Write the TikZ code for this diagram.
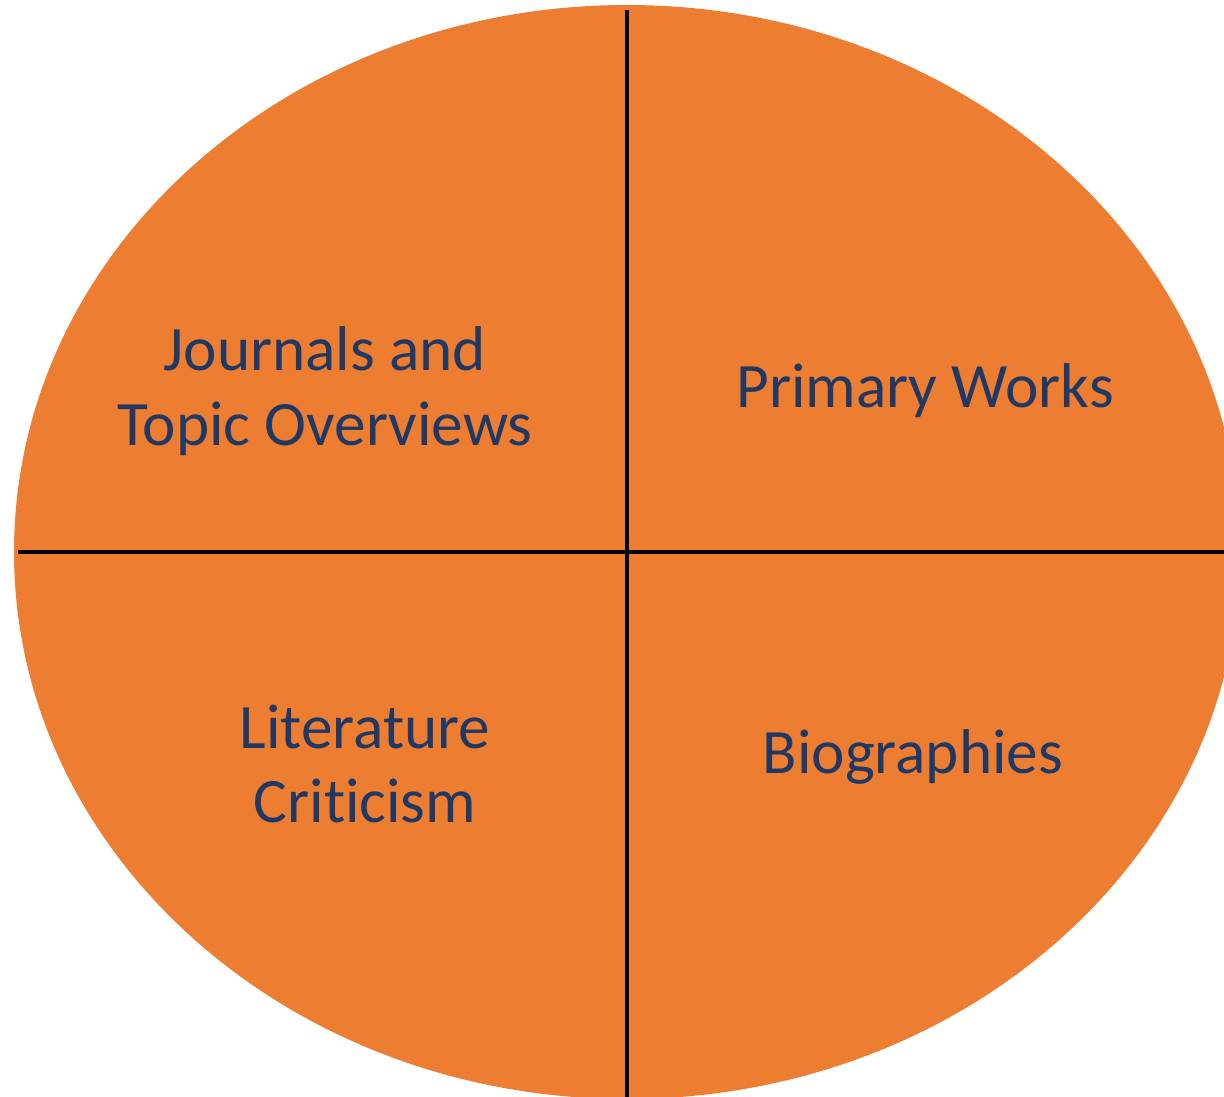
\documentclass[tikz,border=0pt]{standalone}
\usepackage{fontspec}
\setmainfont[Ligatures=CommonOff]{Carlito}
\usetikzlibrary{positioning,shapes.geometric}
\definecolor{discorange}{HTML}{ED7D31}
\definecolor{labelblue}{HTML}{203864}
\tikzset{
    disc/.style={ellipse, fill=discorange, inner sep=0pt,
        minimum width=1226*0.02cm, minimum height=1094*0.02cm},
    divider/.style={line width=0.08cm, black},
    quadlabel/.style={text=labelblue, align=center,
        font=\fontsize{36}{42.5}\selectfont}
}
\begin{document}
\begin{tikzpicture}[x=0.02cm, y=-0.02cm]
\useasboundingbox (0,0) rectangle (1224,1096);
\clip (0,0) rectangle (1224,1096);

\node[disc] (disc) at (627,552) {};

\draw[divider] ([yshift=-0.1cm]disc.north) -- (disc.south);
\draw[divider] ([xshift=0.08cm]disc.west) -- (disc.east);

\node[quadlabel] (journals) at (325,391) {Journals and\\Topic Overviews};
\node[quadlabel] (primary) at (925,391) {Primary Works};
\node[quadlabel] (criticism) at (365,764) {Literature\\Criticism};
\node[quadlabel] (bios) at (913,757) {Biographies};
\end{tikzpicture}
\end{document}
